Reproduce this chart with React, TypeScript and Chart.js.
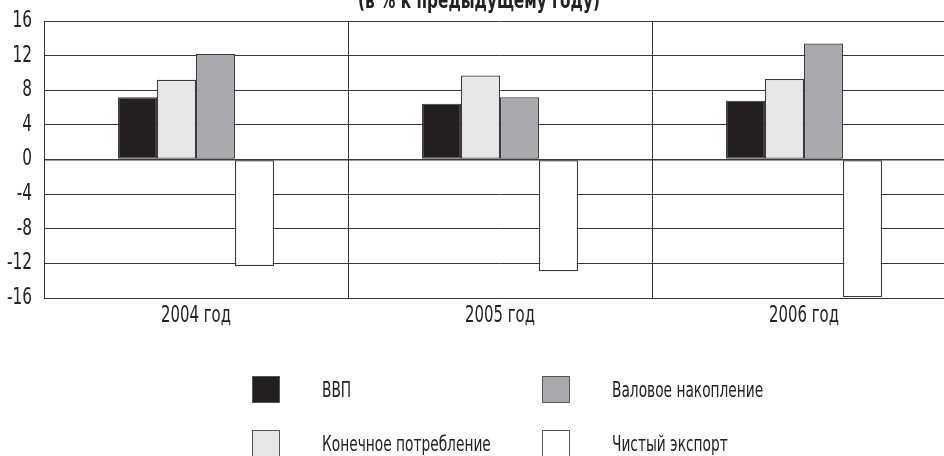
import React, { useEffect, useRef } from "react";
import { Chart, registerables } from "chart.js";

Chart.register(...registerables);

const categories = ["2004 год", "2005 год", "2006 год"];
const seriesNames = ["ВВП", "Конечное потребление", "Валовое накопление", "Чистый экспорт"];
const gdp = [7.2, 6.45, 6.8];
const finalConsumption = [9.2, 9.7, 9.3];
const grossAccumulation = [12.2, 7.2, 13.4];
const netExport = [-12.3, -12.9, -15.9];
const seriesColors = ["#231f20", "#e6e7e8", "#a7a9ac", "#ffffff"];
const yTicks = [16, 12, 8, 4, 0, -4, -8, -12, -16];
const titleText = "(в % к предыдущему году)";

const FONT = "'DejaVu Sans Condensed', 'DejaVu Sans', sans-serif";
const SX = 0.72;

function narrowText(
  ctx: CanvasRenderingContext2D,
  text: string,
  x: number,
  y: number,
  align: CanvasTextAlign,
  baseline: CanvasTextBaseline,
  font: string,
  sx: number
) {
  ctx.save();
  ctx.font = font;
  ctx.textAlign = align;
  ctx.textBaseline = baseline;
  ctx.translate(x, y);
  ctx.scale(sx, 1);
  ctx.fillText(text, 0, 0);
  ctx.restore();
}

const textPlugin = {
  id: "narrowTexts",
  afterDraw(chart: any) {
    const ctx = chart.ctx as CanvasRenderingContext2D;
    const area = chart.chartArea;
    ctx.save();
    ctx.fillStyle = "#222";
    // title (cut off at top like the reference)
    narrowText(ctx, titleText, 479, 8, "center", "alphabetic", `bold 23px ${FONT}`, 0.74);
    // y tick labels
    const ys = chart.scales.y;
    ys.ticks.forEach((t: any) => {
      narrowText(ctx, String(t.value), area.left - 12, ys.getPixelForValue(t.value), "right", "middle", `23px ${FONT}`, 0.74);
    });
    // x tick labels
    const xs = chart.scales.x;
    categories.forEach((c, i) => {
      narrowText(ctx, c, xs.getPixelForTick(i), area.bottom + 7, "center", "top", `23px ${FONT}`, SX);
    });
    // legend
    chart.data.datasets.forEach((ds: any, i: number) => {
      const col = Math.floor(i / 2);
      const row = i % 2;
      const x = 252 + col * 290;
      const y = 376 + row * 54;
      ctx.fillStyle = ds.backgroundColor;
      ctx.fillRect(x, y, 28, 27);
      ctx.strokeStyle = "#555";
      ctx.lineWidth = 1;
      ctx.strokeRect(x + 0.5, y + 0.5, 27, 26);
      ctx.fillStyle = "#222";
      narrowText(ctx, ds.label, 322 + col * 290, y + 15, "left", "middle", `22px ${FONT}`, 0.695);
    });
    ctx.restore();
  },
};

export default function App() {
  const ref = useRef<HTMLCanvasElement>(null);
  useEffect(() => {
    if (!ref.current) return;
    const values = [gdp, finalConsumption, grossAccumulation, netExport];
    const chart = new Chart(ref.current, {
      type: "bar",
      data: {
        labels: categories,
        datasets: seriesNames.map((name, i) => ({
          label: name,
          data: values[i],
          backgroundColor: seriesColors[i],
          borderColor: "#3a3a3a",
          borderWidth: 1.2,
          borderSkipped: false,
          categoryPercentage: 0.513,
          barPercentage: 1,
        })),
      },
      options: {
        responsive: false,
        animation: false,
        layout: { padding: { top: 21, right: 4, left: 0, bottom: 0 } },
        plugins: {
          legend: { display: false },
          title: { display: false },
          tooltip: { enabled: false },
        },
        scales: {
          x: {
            offset: true,
            grid: { offset: true, color: "#333", lineWidth: 1, drawTicks: false },
            border: { color: "#333", width: 1 },
            ticks: { display: false },
            afterFit: (s: any) => {
              s.height = 158;
            },
          },
          y: {
            min: -16,
            max: 16,
            afterBuildTicks: (s: any) => {
              s.ticks = yTicks.map((v) => ({ value: v }));
            },
            grid: {
              color: "#3a3a3a",
              lineWidth: (c: any) => (c.tick && c.tick.value === 0 ? 1.5 : 1),
              drawTicks: false,
            },
            border: { color: "#333", width: 1 },
            ticks: { display: false },
            afterFit: (s: any) => {
              s.width = 44;
            },
          },
        },
      },
      plugins: [textPlugin],
    });
    return () => chart.destroy();
  }, []);
  return (
    <div
      style={{
        position: "fixed",
        left: 0,
        top: 0,
        width: 944,
        height: 456,
        overflow: "hidden",
        background: "#fff",
      }}
    >
      <canvas ref={ref} width={960} height={456} style={{ display: "block" }} />
    </div>
  );
}
